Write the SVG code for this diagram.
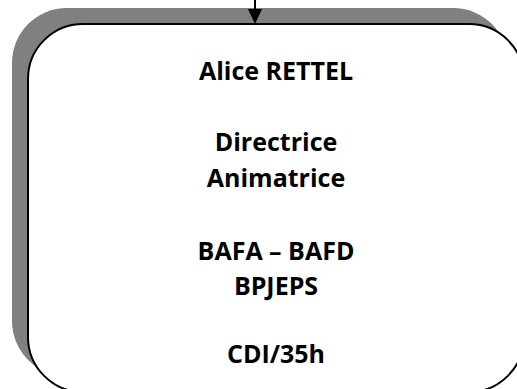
<svg xmlns="http://www.w3.org/2000/svg" width="517" height="389" viewBox="0 0 517 389">
  <style>
    .shadow { fill: #808080; }
    .box { fill: #ffffff; stroke: #000000; stroke-width: 2; }
    .label { font-family: "Open Sans", "Liberation Sans", sans-serif; font-weight: 700; font-size: 25px; fill: #000000; text-anchor: middle; }
    .conn { stroke: #000000; stroke-width: 2; fill: none; }
    .head { fill: #000000; }
  </style>
  <rect width="517" height="389" fill="#ffffff"/>
  <g id="node-alice">
    <rect class="shadow" x="12" y="8" width="496" height="368" rx="55" ry="55"/>
    <rect class="box" x="28" y="24" width="496" height="368" rx="55" ry="55"/>
    <text class="label" x="276" y="80">Alice RETTEL</text>
    <text class="label" x="276" y="151">Directrice</text>
    <text class="label" x="276" y="187">Animatrice</text>
    <text class="label" x="276" y="260">BAFA – BAFD</text>
    <text class="label" x="276" y="295">BPJEPS</text>
    <text class="label" x="276" y="363">CDI/35h</text>
  </g>
  <g id="connectors">
    <line class="conn" x1="255" y1="0" x2="255" y2="12"/>
    <path class="head" d="M248,9 L262,9 L255,24 Z"/>
  </g>
</svg>
